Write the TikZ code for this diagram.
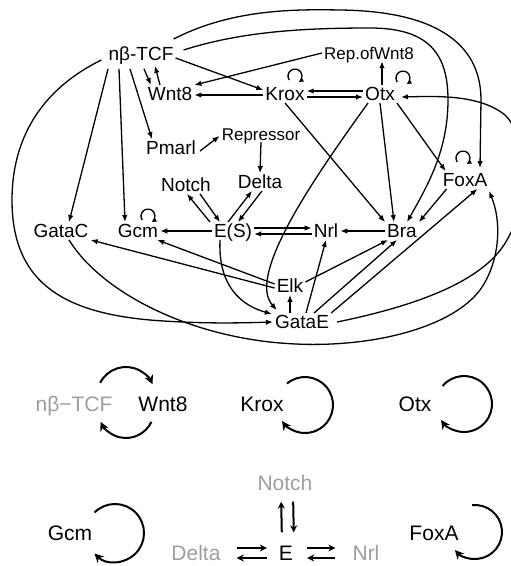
\documentclass[tikz,border=0pt]{standalone}
\usepackage{fontspec}
\setmainfont{Liberation Sans}
\usetikzlibrary{arrows.meta}
\begin{document}
\begin{tikzpicture}[x=1pt,y=1pt,
  lbl/.style={inner sep=2pt, text height=13.5pt, text depth=0pt, font=\fontsize{19}{21}\selectfont},
  sml/.style={inner sep=2pt, text height=12pt, text depth=0pt, font=\fontsize{17}{19}\selectfont},
  arr/.style={line width=1.3pt, -{Latex[length=7pt,width=5.5pt]}},
  loopa/.style={line width=1.3pt, -{Latex[length=5pt,width=5pt]}},
  leg/.style={inner sep=2pt, text height=15pt, text depth=0pt, font=\fontsize{21}{23}\selectfont},
  legarr/.style={line width=2pt, -{Stealth[length=9pt,width=9pt]}},
  legsm/.style={line width=2pt, -{Stealth[length=7pt,width=7pt]}},
  faint/.style={text=black!38}]
\useasboundingbox (0,0) rectangle (511,-566);

% ---------- upper network ----------
\node[lbl] (tcf) at (141,-54) {nβ-TCF};
\node[lbl] (wnt) at (170,-94) {Wnt8};
\node[lbl] (krox) at (285,-94) {Krox};
\node[lbl] (otx) at (380,-94) {Otx};
\node[sml] (rep) at (369,-53) {Rep.ofWnt8};
\node[lbl] (pmarl) at (171,-148) {Pmarl};
\node[sml] (repr) at (261,-134) {Repressor};
\node[lbl] (notch) at (186,-185) {Notch};
\node[lbl] (delta) at (260,-182) {Delta};
\node[lbl] (foxa) at (465,-180) {FoxA};
\node[lbl] (gatac) at (61,-231) {GataC};
\node[lbl] (gcm) at (138,-231) {Gcm};
\node[lbl] (es) at (233,-231) {E(S)};
\node[lbl] (nrl) at (326,-231) {Nrl};
\node[lbl] (bra) at (402,-231) {Bra};
\node[lbl] (elk) at (290,-286) {Elk};
\node[lbl] (gatae) at (302,-322) {GataE};

% nb-TCF <-> Wnt8
\draw[arr] ([xshift=3pt,yshift=-6pt]tcf.south) -- ([xshift=-19pt]wnt.north);
\draw[arr] ([xshift=-10pt]wnt.north) -- ([xshift=14pt,yshift=-3pt]tcf.south);
% nb-TCF -> Krox
\draw[arr] ([yshift=-4pt]tcf.east) -- ([yshift=4pt]krox.west);
% Rep.ofWnt8 -> Wnt8
\draw[arr] (rep.west) -- (wnt.north east);
% Krox -> Wnt8
\draw[arr] ([yshift=-1pt]krox.west) -- ([yshift=-1pt]wnt.east);
% Krox <-> Otx
\draw[arr] ([yshift=3pt]otx.west) -- ([yshift=3pt]krox.east);
\draw[arr] ([yshift=-3pt]krox.east) -- ([yshift=-3pt]otx.west);
% Otx -> Rep.ofWnt8
\draw[arr] ([xshift=2pt]otx.north) -- ([xshift=2pt]otx.north |- rep.south);
% Otx -> FoxA, Bra, GataE
\draw[arr] (otx.south east) -- ([xshift=5pt]foxa.north west);
\draw[arr] (otx.south) -- ([xshift=-8pt]bra.north);
\draw[arr] ([xshift=5pt]otx.south west) .. controls (320,-170) and (245,-275) .. ([xshift=4pt,yshift=3pt]gatae.north west);
% Krox -> Bra
\draw[arr] (krox.south) -- (bra.north west);
% nb-TCF -> Pmarl, GataC, Gcm
\draw[arr] ([xshift=-11pt,yshift=-6pt]tcf.south) -- ([xshift=-19pt]pmarl.north);
\draw[arr] ([xshift=-33pt,yshift=-6pt]tcf.south) -- ([xshift=8pt]gatac.north);
\draw[arr] ([xshift=-22pt,yshift=-6pt]tcf.south) -- ([xshift=-13pt]gcm.north);
% Pmarl -> Repressor -> Delta
\draw[arr] ([xshift=2pt,yshift=-3pt]pmarl.east) -- ([yshift=-2pt]repr.west);
\draw[arr] (repr.south) -- (delta.north);
% Notch <-> E(S), Delta <-> E(S)
\draw[arr] ([xshift=-23pt]es.north) -- ([xshift=1pt]notch.south);
\draw[arr] ([xshift=14pt]notch.south) -- ([xshift=-13pt]es.north);
\draw[arr] ([xshift=-5pt]es.north) -- ([xshift=-8pt]delta.south);
\draw[arr] ([xshift=2pt]delta.south) -- ([xshift=5pt]es.north);
% E(S) -> Gcm
\draw[arr] (es.west) -- (gcm.east);
% E(S) <-> Nrl
\draw[arr] ([yshift=3pt]es.east) -- ([yshift=3pt]nrl.west);
\draw[arr] ([yshift=-3pt]nrl.west) -- ([yshift=-3pt]es.east);
% Bra -> Nrl
\draw[arr] (bra.west) -- (nrl.east);
% FoxA -> Bra
\draw[arr] ([xshift=6pt]foxa.south west) -- (bra.north east);
% nb-TCF -> Bra (curve)
\draw[arr] ([xshift=8pt,yshift=4pt]tcf.east) .. controls (240,-32) and (300,-28) .. (370,-28)
  .. controls (430,-28) and (448,-55) .. (448,-100)
  .. controls (448,-150) and (428,-185) .. ([xshift=5pt]bra.north);
% nb-TCF -> FoxA (outer curve)
\draw[arr] ([xshift=-2pt,yshift=6pt]tcf.north east) .. controls (230,-10) and (290,-9) .. (340,-10)
  .. controls (430,-11) and (481,-40) .. (481,-100) -- ([xshift=15pt,yshift=3pt]foxa.north);
% nb-TCF -> GataE (left arc)
\draw[arr] ([xshift=-5pt,yshift=-6pt]tcf.west) .. controls (40,-90) and (12,-140) .. (12,-200)
  .. controls (12,-280) and (60,-312) .. (150,-320)
  .. controls (200,-324) and (240,-323) .. (gatae.west);
% GataC -> FoxA (bottom arc)
\draw[arr] ([xshift=8pt]gatac.south) .. controls (100,-290) and (180,-332) .. (270,-342)
  .. controls (360,-352) and (450,-330) .. (480,-290)
  .. controls (500,-262) and (502,-222) .. ([xshift=24pt,yshift=-2pt]foxa.south);
% GataE -> Otx (right arc)
\draw[arr] ([xshift=6pt]gatae.east) .. controls (420,-305) and (485,-280) .. (507,-240)
  .. controls (530,-200) and (530,-140) .. (505,-115)
  .. controls (480,-95) and (440,-96) .. ([xshift=4pt,yshift=-3pt]otx.east);
% E(S) -> GataE
\draw[arr] ([xshift=-13pt]es.south) .. controls (218,-285) and (240,-305) .. ([xshift=-1pt,yshift=-1pt]gatae.north west);
% GataE -> Elk
\draw[arr] (elk.south |- gatae.north) -- (elk.south);
% Elk -> Gcm, GataC, Bra
\draw[arr] ([yshift=2pt]elk.west) -- ([xshift=-3pt]gcm.south east);
\draw[arr] ([yshift=-2pt]elk.west) -- (gatac.south east);
\draw[arr] ([yshift=4pt]elk.east) -- ([xshift=3pt]bra.south west);
% GataE -> Nrl, Bra, FoxA
\draw[arr] ([xshift=4pt]gatae.north) -- (nrl.south);
\draw[arr] ([xshift=12pt]gatae.north) -- ([xshift=-5pt]bra.south);
\draw[arr] (gatae.north east) -- ([xshift=-12pt]foxa.south east);
% self loops
\coordinate (kl) at ([xshift=10pt,yshift=9pt]krox.north);
\draw[loopa] ([shift={(215:7pt)}]kl) arc[start angle=215,end angle=-60,radius=7pt];
\coordinate (ol) at ([xshift=23pt,yshift=7pt]otx.north);
\draw[loopa] ([shift={(215:7pt)}]ol) arc[start angle=215,end angle=-60,radius=7pt];
\coordinate (gl) at ([xshift=10pt,yshift=6pt]gcm.north);
\draw[loopa] ([shift={(215:7pt)}]gl) arc[start angle=215,end angle=-60,radius=7pt];
\coordinate (fl) at ([xshift=-2pt,yshift=13pt]foxa.north);
\draw[loopa] ([shift={(215:7pt)}]fl) arc[start angle=215,end angle=-60,radius=7pt];

% ---------- legend ----------
\node[leg, faint] (ltcf) at (74,-404) {nβ−TCF};
\node[leg] (lwnt) at (163,-404) {Wnt8};
\node[leg] (lkrox) at (262,-404) {Krox};
\node[leg] (lotx) at (415,-404) {Otx};
\node[leg] (lgcm) at (70,-533) {Gcm};
\node[leg] (lfoxa) at (434,-533) {FoxA};
\node[leg, faint] (lnotch) at (285,-483) {Notch};
\node[leg] (le) at (286,-553) {E};
\node[leg, faint] (ldelta) at (196,-553) {Delta};
\node[leg, faint] (lnrl) at (366,-553) {Nrl};

\draw[legarr] ([shift={(153:29pt)}]126,-396) arc[start angle=153,end angle=24,radius=29pt];
\draw[legarr] ([shift={(-25:28pt)}]126,-410) arc[start angle=-25,end angle=-155,radius=28pt];
\draw[legarr] ([shift={(130:28pt)}]305,-405) arc[start angle=130,end angle=-145,radius=28pt];
\draw[legarr] ([shift={(140:28pt)}]464,-404) arc[start angle=140,end angle=-145,radius=28pt];
\draw[legarr] ([shift={(135:29pt)}]115,-533) arc[start angle=135,end angle=-135,radius=29pt];
\draw[legarr] ([shift={(96:27pt)}]475,-532) arc[start angle=96,end angle=-138,radius=27pt];

\draw[legsm, shorten <=11pt, shorten >=9pt] ([xshift=-4pt]le.north) -- ([xshift=-4pt]lnotch.south);
\draw[legsm, shorten <=9pt, shorten >=11pt] ([xshift=8pt]lnotch.south) -- ([xshift=8pt]le.north);
\draw[legsm, shorten <=14pt, shorten >=10pt] ([yshift=5pt]ldelta.east) -- ([yshift=5pt]le.west);
\draw[legsm, shorten <=10pt, shorten >=14pt] ([yshift=-5pt]le.west) -- ([yshift=-5pt]ldelta.east);
\draw[legsm, shorten <=12pt, shorten >=15pt] ([yshift=5pt]le.east) -- ([yshift=5pt]lnrl.west);
\draw[legsm, shorten <=15pt, shorten >=12pt] ([yshift=-5pt]lnrl.west) -- ([yshift=-5pt]le.east);
\end{tikzpicture}
\end{document}
